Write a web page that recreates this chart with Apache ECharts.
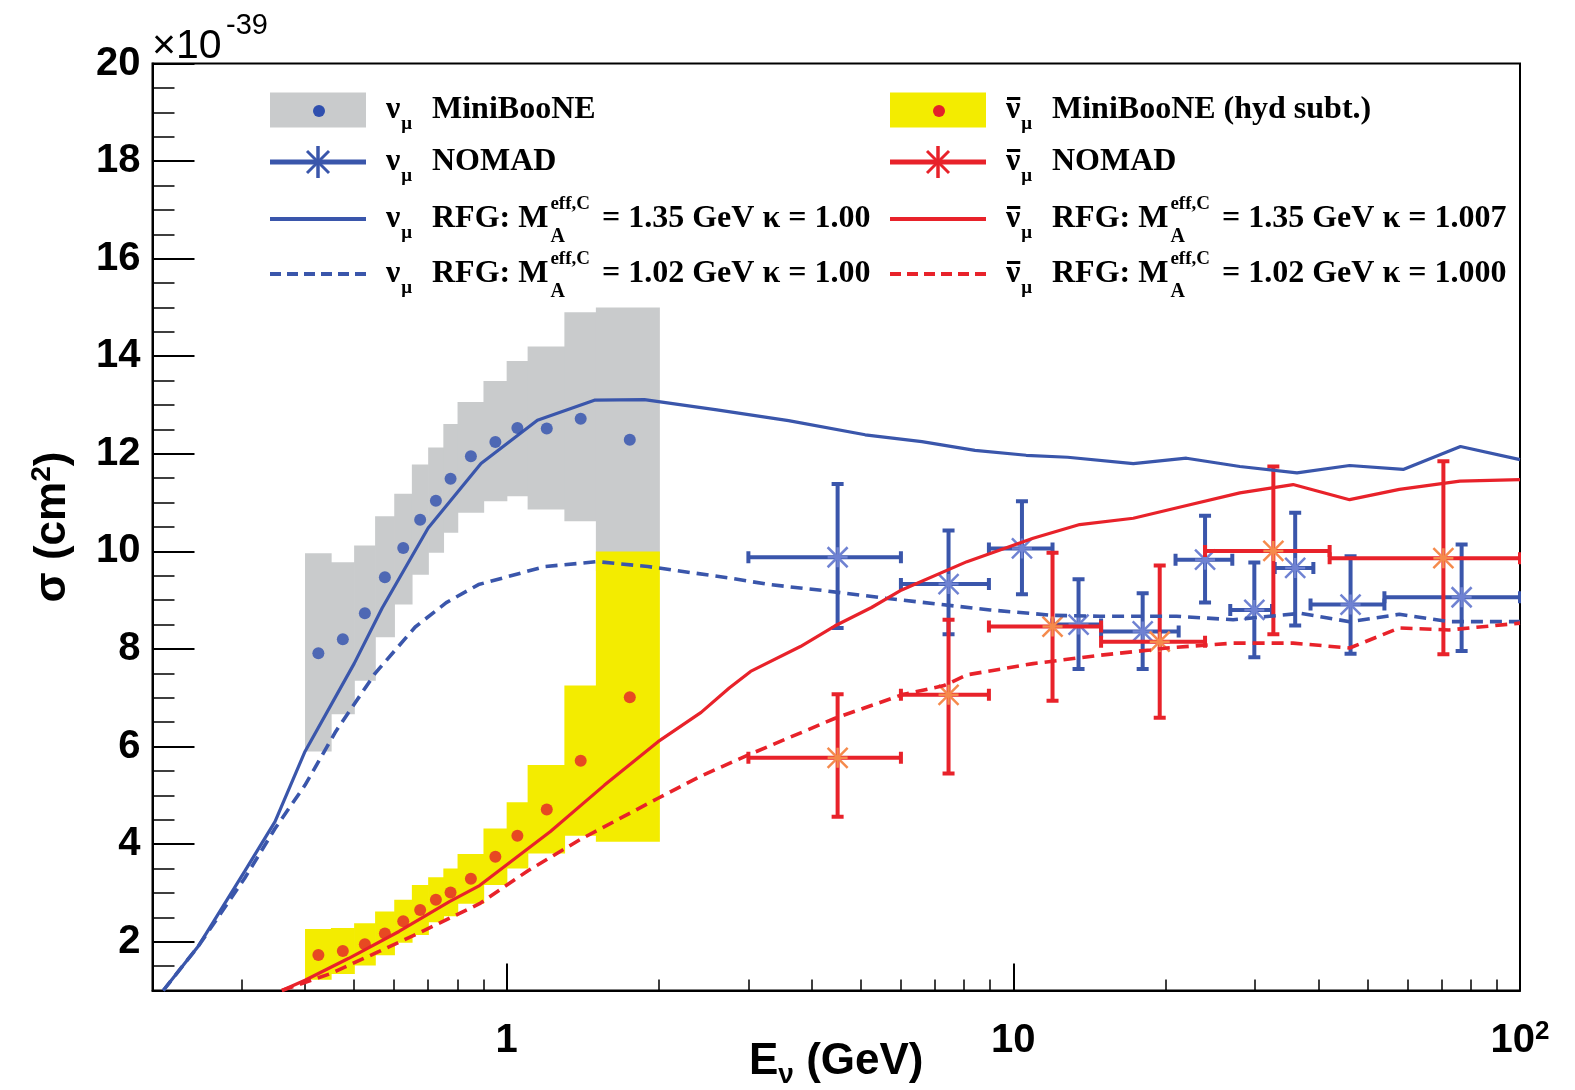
<!DOCTYPE html>
<html>
<head>
<meta charset="utf-8">
<script src="https://cdn.jsdelivr.net/npm/echarts@6.0.0/dist/echarts.min.js"></script>
<style>
html,body{margin:0;padding:0;background:#fff;}
#chart{width:1575px;height:1090px;}
</style>
</head>
<body>
<div id="chart"></div>
<script>
// ---------------- data (cross sections in 1e-39 cm^2, energies in GeV) ----------------
const mbBinEdges   = [0.4,0.45,0.5,0.55,0.6,0.65,0.7,0.75,0.8,0.9,1.0,1.1,1.3,1.5,2.0];
const mbBinCenters = [0.425,0.475,0.525,0.575,0.625,0.675,0.725,0.775,0.85,0.95,1.05,1.2,1.4,1.75];

const numuMBxs     = [7.91,8.20,8.73,9.47,10.07,10.65,11.04,11.49,11.95,12.24,12.53,12.52,12.72,12.29];
const numuMBbandLo = [5.90,6.66,7.35,8.24,8.91,9.52,9.97,10.38,10.79,11.03,11.13,10.86,10.62,9.60];
const numuMBbandHi = [9.96,9.78,10.12,10.72,11.18,11.78,12.13,12.61,13.06,13.49,13.90,14.20,14.90,15.00];

const nubarMBxs     = [1.73,1.81,1.95,2.17,2.42,2.65,2.86,3.01,3.29,3.74,4.17,4.71,5.71,7.01];
const nubarMBbandLo = [1.22,1.34,1.51,1.72,1.98,2.14,2.40,2.52,2.78,3.16,3.50,3.81,4.17,4.05];
const nubarMBbandHi = [2.26,2.28,2.38,2.62,2.86,3.16,3.32,3.50,3.80,4.32,4.86,5.62,7.25,10.00];

const numuNomadE   = [4.5,7.45,10.4,13.45,18.0,23.9,29.9,36.0,46.3,76.7];
const numuNomadElo = [3.0,6.0,8.95,11.95,14.9,20.9,26.8,32.8,38.6,54.0];
const numuNomadEhi = [6.0,8.95,11.95,14.9,21.2,27.05,32.4,39.1,54.0,100];
const numuNomadXs  = [9.88,9.33,10.06,8.50,8.36,9.83,8.80,9.66,8.91,9.06];
const numuNomadLo  = [8.43,8.30,9.12,7.59,7.59,8.95,7.83,8.48,7.90,7.96];
const numuNomadHi  = [11.38,10.43,11.03,9.43,9.14,10.73,9.77,10.79,9.90,10.14];

const nubarNomadE   = [4.5,7.45,11.95,19.45,32.6,70.6];
const nubarNomadElo = [3.0,6.0,8.95,14.9,23.9,42.1];
const nubarNomadEhi = [6.0,8.95,14.9,23.9,42.1,100];
const nubarNomadXs  = [5.77,7.06,8.46,8.15,10.01,9.86];
const nubarNomadLo  = [4.56,5.45,6.94,6.59,8.30,7.89];
const nubarNomadHi  = [7.07,8.60,9.97,9.71,11.74,11.85];

const rfgNu135E = [0.21,0.246,0.304,0.349,0.40,0.50,0.568,0.70,0.89,1.15,1.49,1.87,2.6,3.6,5.1,6.6,8.4,10.6,12.8,17.25,21.96,28.0,36.3,46.1,58.8,76.3,100];
const rfgNu135  = [1.0,1.9,3.44,4.46,5.9,7.7,8.84,10.48,11.8,12.69,13.1,13.11,12.9,12.68,12.39,12.25,12.07,11.97,11.93,11.8,11.91,11.74,11.61,11.76,11.68,12.15,11.88];

const rfgNu102E = [0.21,0.246,0.304,0.349,0.40,0.46,0.55,0.66,0.76,0.88,1.19,1.51,1.9,2.77,3.3,4.2,5.6,9.0,11.95,14.8,20.98,27.15,36.9,46.1,57.8,72.5,100];
const rfgNu102  = [1.0,1.9,3.3,4.32,5.21,6.31,7.5,8.45,8.95,9.32,9.69,9.79,9.69,9.45,9.32,9.2,9.04,8.80,8.69,8.67,8.67,8.60,8.73,8.56,8.71,8.56,8.56];

const rfgNubar135E = [0.36,0.40,0.488,0.613,0.771,0.884,1.22,1.56,1.99,2.42,2.75,3.03,3.8,4.44,5.25,6.02,8.1,10.94,13.52,17.25,21.57,28.0,35.66,46.1,57.8,76.1,100];
const rfgNubar135  = [1.0,1.21,1.66,2.21,2.82,3.15,4.26,5.21,6.1,6.7,7.2,7.54,8.05,8.47,8.85,9.21,9.79,10.27,10.55,10.68,10.92,11.2,11.37,11.06,11.27,11.44,11.47];

const rfgNubar102E = [0.36,0.45,0.56,0.662,0.884,1.1,1.4,1.99,2.4,3.0,4.45,6.02,7.3,8.1,10.94,14.8,18.63,20.1,27.15,35.66,46.1,57.8,72.5,100];
const rfgNubar102  = [1.0,1.35,1.8,2.15,2.78,3.45,4.1,4.94,5.38,5.83,6.58,7.06,7.25,7.47,7.70,7.87,7.98,8.02,8.12,8.12,8.02,8.43,8.39,8.53];

const xLabelValues = [1,10,100];
const xMinorTicks  = [0.3,0.4,0.5,0.6,0.7,0.8,0.9,2,3,4,5,6,7,8,9,20,30,40,50,60,70,80,90];
const yLabelValues = [2,4,6,8,10,12,14,16,18,20];
const yMinorTicks  = [1.5,2.5,3,3.5,4.5,5,5.5,6.5,7,7.5,8.5,9,9.5,10.5,11,11.5,12.5,13,13.5,14.5,15,15.5,16.5,17,17.5,18.5,19,19.5];

// ---------------- styling ----------------
const BLUE = '#3a56ab', BLUE_DOT = '#2f4fae', BLUE_STAR = '#6f82d2';
const RED = '#e8222a', RED_DOT = '#e3202a', RED_STAR = '#f58a4c';
const GREY = '#c9cbcc', YELLOW = '#f3ec00';
const SANS = '"Liberation Sans", Arial, Helvetica, sans-serif';
const SERIF = '"Liberation Serif", "Times New Roman", serif';
const LEG_SIZE = 32;

function zip(a, b) { return a.map((v, i) => [v, b[i]]); }
function bandData(lo, hi) { return lo.map((v, i) => [mbBinEdges[i], mbBinEdges[i + 1], v, hi[i]]); }
function nomadData(E, Elo, Ehi, y, ylo, yhi) { return E.map((v, i) => [v, Elo[i], Ehi[i], y[i], ylo[i], yhi[i]]); }

function bandRender(color) {
  return function (params, api) {
    const p0 = api.coord([api.value(0), api.value(3)]);
    const p1 = api.coord([api.value(1), api.value(2)]);
    return { type: 'rect', shape: { x: p0[0], y: p0[1], width: p1[0] - p0[0] + 0.7, height: p1[1] - p0[1] },
             style: { fill: color } };
  };
}
function nomadRender(color, starColor) {
  return function (params, api) {
    const E = api.value(0), lo = api.value(1), hi = api.value(2), y = api.value(3), ylo = api.value(4), yhi = api.value(5);
    const c = api.coord([E, y]), l = api.coord([lo, y]), r = api.coord([hi, y]);
    const t = api.coord([E, yhi]), b = api.coord([E, ylo]);
    const st = { stroke: color, lineWidth: 4 };
    const ss = { stroke: starColor, lineWidth: 2.5 };
    const cap = 6, s = 10;
    const L = (x1, y1, x2, y2, style) => ({ type: 'line', shape: { x1, y1, x2, y2 }, style });
    return { type: 'group', children: [
      L(l[0], c[1], r[0], c[1], st), L(c[0], t[1], c[0], b[1], st),
      L(l[0], c[1] - cap, l[0], c[1] + cap, st), L(r[0], c[1] - cap, r[0], c[1] + cap, st),
      L(c[0] - cap, t[1], c[0] + cap, t[1], st), L(c[0] - cap, b[1], c[0] + cap, b[1], st),
      L(c[0] - s, c[1] - s, c[0] + s, c[1] + s, ss), L(c[0] - s, c[1] + s, c[0] + s, c[1] - s, ss),
      L(c[0] - s, c[1], c[0] + s, c[1], ss), L(c[0], c[1] - s, c[0], c[1] + s, ss)
    ] };
  };
}

// ---------------- legend (graphic) ----------------
const mctx = document.createElement('canvas').getContext('2d');
function tw(s, size) { mctx.font = 'bold ' + size + 'px ' + SERIF; return mctx.measureText(s).width; }
function gtext(x, y, s, size, fam, weight) {
  const f = (weight || 'bold') + ' ' + size + 'px ' + (fam || SERIF);
  return { type: 'text', x: x, y: y, z: 100, silent: true,
           style: { text: s, fill: '#000', font: f, textAlign: 'left', textVerticalAlign: 'middle', align: 'left', verticalAlign: 'middle' } };
}
function gline(x1, y1, x2, y2, color, w, dash) {
  const st = { stroke: color, lineWidth: w };
  if (dash) st.lineDash = dash;
  return { type: 'line', z: 100, silent: true, shape: { x1, y1, x2, y2 }, style: st };
}
function star(cx, cy, color) {
  return [gline(cx, cy - 16, cx, cy + 16, color, 3.5),
          gline(cx - 11, cy - 11, cx + 11, cy + 11, color, 3),
          gline(cx - 11, cy + 11, cx + 11, cy - 11, color, 3)];
}
const legendTexts = {
  left:  ['MiniBooNE', 'NOMAD', ['RFG: M', 'eff,C', 'A', ' = 1.35 GeV κ = 1.00'], ['RFG: M', 'eff,C', 'A', ' = 1.02 GeV κ = 1.00']],
  right: ['MiniBooNE (hyd subt.)', 'NOMAD', ['RFG: M', 'eff,C', 'A', ' = 1.35 GeV κ = 1.007'], ['RFG: M', 'eff,C', 'A', ' = 1.02 GeV κ = 1.000']]
};
const rowTextY = [110, 162, 219, 274];
const rowSymY  = [110, 162, 219, 274];
function buildLegend() {
  const els = [];
  const cols = [
    { sym: 270, nu: 386, txt: 432, bar: false, color: BLUE, dot: BLUE_DOT, band: GREY, texts: legendTexts.left },
    { sym: 890, nu: 1006, txt: 1052, bar: true, color: RED, dot: RED_DOT, band: YELLOW, texts: legendTexts.right }
  ];
  cols.forEach(col => {
    els.push({ type: 'rect', z: 100, silent: true, shape: { x: col.sym, y: 92.5, width: 96, height: 35 }, style: { fill: col.band } });
    els.push({ type: 'circle', z: 101, silent: true, shape: { cx: col.sym + 49, cy: 111, r: 6 }, style: { fill: col.dot } });
    els.push(gline(col.sym, rowSymY[1], col.sym + 96, rowSymY[1], col.color, 5));
    star(col.sym + 48, rowSymY[1], col.color).forEach(e => els.push(e));
    els.push(gline(col.sym, rowSymY[2], col.sym + 96, rowSymY[2], col.color, 4));
    els.push(gline(col.sym, rowSymY[3], col.sym + 96, rowSymY[3], col.color, 4, [11, 6]));
    col.texts.forEach((t, r) => {
      const Y = rowTextY[r];
      els.push(gtext(col.nu, Y, 'ν', LEG_SIZE));
      const wn = tw('ν', LEG_SIZE);
      if (col.bar) els.push({ type: 'rect', z: 100, silent: true, shape: { x: col.nu + 1, y: Y - 13, width: wn - 1, height: 3 }, style: { fill: '#000' } });
      els.push(gtext(col.nu + wn + 1, Y + 14, 'μ', 19));
      if (typeof t === 'string') {
        els.push(gtext(col.txt, Y, t, LEG_SIZE));
      } else {
        let x = col.txt;
        els.push(gtext(x, Y, t[0], LEG_SIZE)); x += tw(t[0], LEG_SIZE) + 2;
        els.push(gtext(x, Y - 15, t[1], 19));
        els.push(gtext(x, Y + 18, t[2], 20));
        x += Math.max(tw(t[1], 19), tw(t[2], 20)) + 4;
        els.push(gtext(x, Y, t[3], LEG_SIZE));
      }
    });
  });
  els.push(gtext(152, 46.5, '×10', 41, SANS, 'normal'));
  els.push(gtext(226, 26, '-39', 29, SANS, 'normal'));
  return els;
}

// ---------------- chart ----------------
const chart = echarts.init(document.getElementById('chart'), null, { renderer: 'canvas', width: 1575, height: 1090 });
const axisLbl = { color: '#000', fontSize: 40, fontWeight: 'bold', fontFamily: SANS };
const XMIN = 0.2, XMAX = 100, YMIN = 1, YMAX = 20;
const option = {
  animation: false,
  backgroundColor: '#fff',
  grid: { left: 152.5, right: 55, top: 63.5, bottom: 99.5, show: true, borderColor: '#000', borderWidth: 2, containLabel: false, outerBoundsMode: 'none' },
  xAxis: [
    { type: 'log', logBase: 10, min: XMIN, max: XMAX, position: 'bottom',
      axisLine: { show: true, onZero: false, lineStyle: { color: '#000', width: 2 } },
      axisTick: { show: true, inside: true, length: 27, customValues: xLabelValues, lineStyle: { color: '#000', width: 2 } },
      minorTick: { show: false }, splitLine: { show: false },
      axisLabel: Object.assign({ customValues: xLabelValues, margin: 28,
        formatter: v => (Math.abs(v - 100) < 1e-6 ? '{b|10}{s|2}' : '{b|' + Math.round(v) + '}'),
        rich: { b: { fontSize: 40, fontWeight: 'bold', fontFamily: SANS, color: '#000', lineHeight: 44 },
                s: { fontSize: 26, fontWeight: 'bold', fontFamily: SANS, color: '#000', verticalAlign: 'top', lineHeight: 20 } } }, axisLbl),
      name: 'E{s|ν} (GeV)', nameLocation: 'middle', nameGap: 43, nameMoveOverlap: false,
      nameTextStyle: { color: '#000', fontSize: 44, fontWeight: 'bold', fontFamily: SANS, lineHeight: 56,
        rich: { s: { fontSize: 28, fontWeight: 'bold', fontFamily: SANS, color: '#000', verticalAlign: 'bottom', lineHeight: 20 } } } },
    { type: 'log', logBase: 10, min: XMIN, max: XMAX, position: 'bottom',
      axisLine: { show: false },
      axisTick: { show: true, inside: true, length: 11, customValues: xMinorTicks, lineStyle: { color: '#000', width: 1.5 } },
      axisLabel: { show: false }, splitLine: { show: false } }
  ],
  yAxis: [
    { type: 'value', min: YMIN, max: YMAX, position: 'left',
      axisLine: { show: true, onZero: false, lineStyle: { color: '#000', width: 2 } },
      axisTick: { show: true, inside: true, length: 42, customValues: yLabelValues, lineStyle: { color: '#000', width: 2 } },
      splitLine: { show: false },
      axisLabel: Object.assign({ customValues: yLabelValues, margin: 12, padding: [5, 0, 0, 0] }, axisLbl),
      name: 'σ (cm{s|2})', nameLocation: 'middle', nameGap: 76, nameRotate: 90, nameMoveOverlap: false,
      nameTextStyle: { color: '#000', fontSize: 44, fontWeight: 'bold', fontFamily: SANS, lineHeight: 48,
        rich: { s: { fontSize: 28, fontWeight: 'bold', fontFamily: SANS, color: '#000', verticalAlign: 'top', lineHeight: 22 } } } },
    { type: 'value', min: YMIN, max: YMAX, position: 'left',
      axisLine: { show: false },
      axisTick: { show: true, inside: true, length: 22, customValues: yMinorTicks, lineStyle: { color: '#000', width: 1.5 } },
      axisLabel: { show: false }, splitLine: { show: false } }
  ],
  series: [
    { type: 'custom', name: 'numu MiniBooNE band', z: 1, clip: true, renderItem: bandRender(GREY),
      encode: { x: [0, 1], y: [2, 3] }, data: bandData(numuMBbandLo, numuMBbandHi) },
    { type: 'custom', name: 'nubar MiniBooNE band', z: 1, clip: true, renderItem: bandRender(YELLOW),
      encode: { x: [0, 1], y: [2, 3] }, data: bandData(nubarMBbandLo, nubarMBbandHi) },
    { type: 'custom', name: 'numu NOMAD', z: 2, clip: true, renderItem: nomadRender(BLUE, BLUE_STAR),
      encode: { x: [0, 1, 2], y: [3, 4, 5] }, data: nomadData(numuNomadE, numuNomadElo, numuNomadEhi, numuNomadXs, numuNomadLo, numuNomadHi) },
    { type: 'custom', name: 'nubar NOMAD', z: 2, clip: true, renderItem: nomadRender(RED, RED_STAR),
      encode: { x: [0, 1, 2], y: [3, 4, 5] }, data: nomadData(nubarNomadE, nubarNomadElo, nubarNomadEhi, nubarNomadXs, nubarNomadLo, nubarNomadHi) },
    { type: 'line', name: 'numu RFG 1.35', z: 3, showSymbol: false, clip: true, data: zip(rfgNu135E, rfgNu135),
      lineStyle: { color: BLUE, width: 3.2 } },
    { type: 'line', name: 'numu RFG 1.02', z: 3, showSymbol: false, clip: true, data: zip(rfgNu102E, rfgNu102),
      lineStyle: { color: BLUE, width: 3.6, type: [12, 7] } },
    { type: 'line', name: 'nubar RFG 1.35', z: 3, showSymbol: false, clip: true, data: zip(rfgNubar135E, rfgNubar135),
      lineStyle: { color: RED, width: 3.2 } },
    { type: 'line', name: 'nubar RFG 1.02', z: 3, showSymbol: false, clip: true, data: zip(rfgNubar102E, rfgNubar102),
      lineStyle: { color: RED, width: 3.6, type: [12, 7] } },
    { type: 'scatter', name: 'numu MiniBooNE', z: 4, symbol: 'circle', symbolSize: 12, itemStyle: { color: BLUE_DOT },
      data: zip(mbBinCenters, numuMBxs) },
    { type: 'scatter', name: 'nubar MiniBooNE', z: 4, symbol: 'circle', symbolSize: 12, itemStyle: { color: RED_DOT },
      data: zip(mbBinCenters, nubarMBxs) }
  ],
  graphic: { elements: buildLegend() }
};
chart.setOption(option);
</script>
</body>
</html>
